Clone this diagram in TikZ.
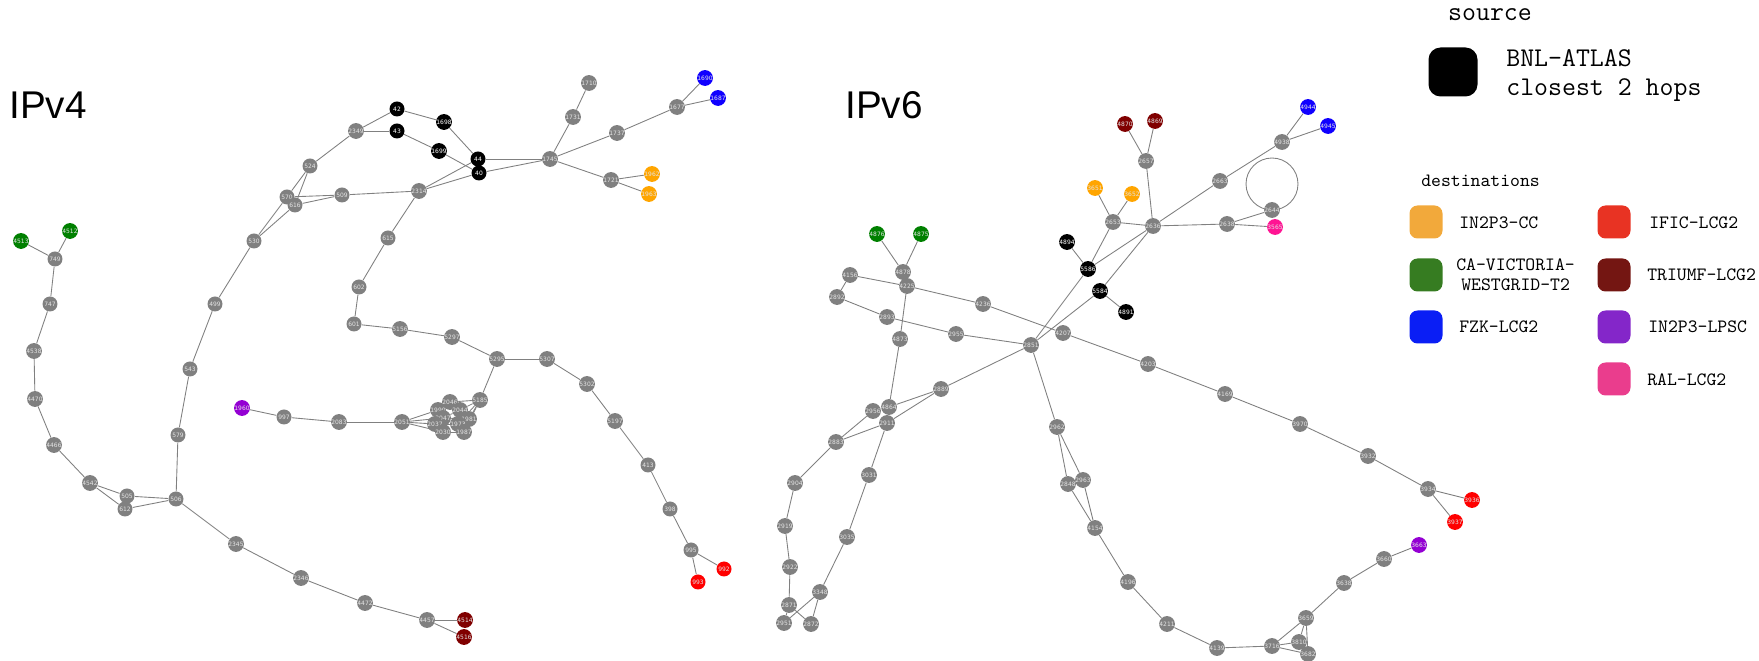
\documentclass[tikz,border=0pt]{standalone}
\usepackage{fontspec}
\setmainfont{Liberation Sans}
\newfontfamily\keyfont{Latin Modern Mono}
\newfontfamily\hopfont{DejaVu Sans}
\usetikzlibrary{backgrounds}

\definecolor{hopgray}{HTML}{808080}
\definecolor{hopgreen}{HTML}{008000}
\definecolor{hoporange}{HTML}{FFA500}
\definecolor{hopblue}{HTML}{1000FF}
\definecolor{hopred}{HTML}{FF0000}
\definecolor{hopmaroon}{HTML}{800000}
\definecolor{hopviolet}{HTML}{9400D3}
\definecolor{hoppink}{HTML}{FF1493}
\definecolor{keyorange}{HTML}{F2A93B}
\definecolor{keygreen}{HTML}{367C21}
\definecolor{keyblue}{HTML}{0A1EF5}
\definecolor{keyred}{HTML}{E83323}
\definecolor{keymaroon}{HTML}{741612}
\definecolor{keyviolet}{HTML}{8426C9}
\definecolor{keypink}{HTML}{EA3D8D}

\begin{document}
\begin{tikzpicture}[x=0.02cm, y=-0.02cm,
  hop/.style={circle, fill=hopgray, minimum size=0.3cm, inner sep=0pt,
    text=white!90!black, font=\hopfont\fontsize{3.4}{3.4}\selectfont},
  link/.style={draw=hopgray, line width=0.5pt},
  swatch/.style={rectangle, rounded corners=0.16cm, minimum size=0.66cm, inner sep=0pt},
  keytext/.style={anchor=base west, inner sep=0pt, font=\keyfont\fontsize{10.7}{12}\selectfont},
  bigkey/.style={inner sep=0pt, font=\keyfont\fontsize{15.4}{18}\selectfont},
  title/.style={anchor=west, inner sep=0pt, font=\fontsize{22}{26}\selectfont}]

\useasboundingbox (0,0) rectangle (1759,661);

%% IPv4
\node[title] (v4title) at (9,105) {IPv4};

\foreach \n/\x/\y in {749/55/259, 747/50/304, 4538/34/351, 4470/35/399, 4466/54/445,
  4542/90/483, 505/127/496, 612/125/509, 506/176/499, 579/178/435, 543/190/369,
  499/215/304, 530/254/241, 570/287/197, 616/295/205, 524/310/166, 509/342/195,
  2349/356/131, 2314/419/191, 1745/550/159, 1731/573/117, 1710/589/83, 1737/617/133,
  1677/677/107, 1721/611/180, 615/388/238, 602/359/287, 601/354/324, 5156/400/329,
  5297/452/337, 5295/497/359, 5307/547/359, 5302/587/384, 5197/615/421, 413/648/465,
  398/670/509, 995/691/550, 5185/480/400, 2046/450/402, 1990/438/410, 2044/460/410,
  2047/443/418, 1981/469/419, 2037/435/424, 1973/458/424, 2030/443/432, 1987/464/432,
  2051/402/422, 2083/339/422, 997/284/417, 2345/236/544, 2346/301/578, 4472/365/603,
  4457/427/620}
  \node[hop] (a\n) at (\x,\y) {\n};

% source and destinations
\foreach \n/\x/\y in {42/397/109, 43/397/131, 1698/444/122, 1699/439/151, 44/478/159, 40/479/173}
  \node[hop, fill=black, text=white] (a\n) at (\x,\y) {\n};
\node[hop, fill=hopgreen] (a4513) at (21,241) {4513};
\node[hop, fill=hopgreen] (a4512) at (70,231) {4512};
\node[hop, fill=hopblue] (a1690) at (705,78) {1690};
\node[hop, fill=hopblue] (a1687) at (718,98) {1687};
\node[hop, fill=hoporange] (a1962) at (652,174) {1962};
\node[hop, fill=hoporange] (a1963) at (649,194) {1963};
\node[hop, fill=hopred] (a992) at (724,569) {992};
\node[hop, fill=hopred] (a993) at (698,582) {993};
\node[hop, fill=hopviolet] (a1960) at (242,408) {1960};
\node[hop, fill=hopmaroon] (a4514) at (465,620) {4514};
\node[hop, fill=hopmaroon] (a4516) at (464,637) {4516};

\begin{pgfonlayer}{background}
\foreach \p/\q in {4513/749, 4512/749, 749/747, 747/4538, 4538/4470, 4470/4466,
  4466/4542, 4542/505, 4542/612, 505/506, 612/506, 506/579, 579/543, 543/499,
  499/530, 530/570, 530/616, 570/524, 616/524, 570/509, 616/509, 524/2349,
  2349/42, 2349/43, 42/1698, 43/1699, 1698/44, 1699/40, 509/2314, 2314/44,
  2314/40, 44/1745, 40/1745, 1745/1731, 1731/1710, 1745/1737, 1737/1677,
  1677/1690, 1677/1687, 1745/1721, 1721/1962, 1721/1963, 2314/615, 615/602,
  602/601, 601/5156, 5156/5297, 5297/5295, 5295/5307, 5307/5302, 5302/5197,
  5197/413, 413/398, 398/995, 995/992, 995/993, 5295/5185,
  2051/1990, 2051/2047, 2051/2037, 2051/2030, 1990/2046, 2047/2044, 2047/1981,
  2037/1973, 2030/1987, 2046/5185, 2044/5185, 1981/5185, 1973/5185, 1987/5185,
  2051/2083, 2083/997, 997/1960, 506/2345, 2345/2346, 2346/4472, 4472/4457,
  4457/4514, 4457/4516}
  \draw[link] (a\p) -- (a\q);
\end{pgfonlayer}

%% IPv6
\node[title] (v6title) at (845,105) {IPv6};

\foreach \n/\x/\y in {2657/1146/161, 4938/1282/142, 2663/1220/181, 2653/1113/222,
  2636/1153/226, 2638/1227/224, 2644/1272/210, 4878/903/272, 4225/907/286,
  4156/850/275, 2892/837/297, 2893/887/317, 4236/983/304, 4873/900/339,
  2955/956/334, 2851/1031/345, 4207/1063/333, 4203/1148/364, 4169/1225/394,
  3970/1300/424, 3932/1368/456, 3934/1428/489, 2889/941/389, 4864/889/407,
  2956/873/411, 2911/887/423, 2883/836/442, 3031/869/475, 2904/795/483,
  2919/785/526, 3035/847/537, 2922/790/567, 3348/820/592, 2871/789/605,
  2951/784/623, 2872/811/624, 2962/1057/427, 2848/1068/484, 2963/1083/480,
  4154/1095/528, 4196/1128/582, 4211/1167/624, 4139/1217/648, 3716/1272/646,
  3810/1299/642, 3682/1308/654, 3659/1306/618, 3638/1344/583, 3660/1384/559}
  \node[hop] (b\n) at (\x,\y) {\n};

% source and destinations
\foreach \n/\x/\y in {4894/1067/242, 5586/1088/269, 5584/1100/291, 4891/1126/312}
  \node[hop, fill=black, text=white] (b\n) at (\x,\y) {\n};
\node[hop, fill=hopmaroon] (b4870) at (1125,124) {4870};
\node[hop, fill=hopmaroon] (b4869) at (1155,121) {4869};
\node[hop, fill=hopblue] (b4944) at (1308,107) {4944};
\node[hop, fill=hopblue] (b4945) at (1328,126) {4945};
\node[hop, fill=hoporange] (b3651) at (1095,188) {3651};
\node[hop, fill=hoporange] (b3652) at (1132,194) {3652};
\node[hop, fill=hoppink] (b3565) at (1275,227) {3565};
\node[hop, fill=hopgreen] (b4876) at (877,234) {4876};
\node[hop, fill=hopgreen] (b4875) at (921,234) {4875};
\node[hop, fill=hopred] (b3936) at (1472,500) {3936};
\node[hop, fill=hopred] (b3937) at (1455,522) {3937};
\node[hop, fill=hopviolet] (b3663) at (1419,545) {3663};

\begin{pgfonlayer}{background}
\foreach \p/\q in {4870/2657, 4869/2657, 2657/2636, 3651/2653, 3652/2653,
  2653/2636, 2636/2663, 2663/4938, 4938/4944, 4938/4945, 2636/2638, 2638/2644,
  2638/3565, 4894/5586, 5586/2653, 5586/2636, 5584/2636, 5584/4891, 5586/2851,
  5584/2851, 4876/4878, 4875/4878, 4878/4225, 4156/4225, 4225/4236, 4236/4207,
  4207/4203, 4203/4169, 4169/3970, 3970/3932, 3932/3934, 3934/3936, 3934/3937,
  4156/2892, 2892/2893, 2893/2955, 2955/2851, 4225/4873, 4873/4864, 4864/2889,
  2889/2851, 2956/4864, 2883/2956, 2883/2911, 2911/2889, 2911/3031, 3031/3035,
  3035/3348, 3348/2951, 3348/2872, 2871/2951, 2871/2872, 2871/2922, 2922/2919,
  2919/2904, 2904/2883, 2851/2962, 2962/2848, 2962/2963, 2848/4154, 2963/4154,
  4154/4196, 4196/4211, 4211/4139, 4139/3716, 3716/3659, 3716/3810, 3716/3682,
  3659/3810, 3659/3682, 3659/3638, 3638/3660, 3660/3663}
  \draw[link] (b\p) -- (b\q);
\draw[link] (b2644.center) ++(0,-26) circle [radius=0.52cm];
\end{pgfonlayer}

%% legend
\node[bigkey, anchor=base] (srchead) at (1490,21) {source};
\node[swatch, fill=black, minimum size=0.98cm, rounded corners=0.24cm] (keysrc) at (1453,72) {};
\node[bigkey, anchor=base west] (srcname) at (1506,67) {BNL-ATLAS};
\node[bigkey, anchor=base west] (srchops) at (1506,96) {closest 2 hops};

\node[keytext] (dsthead) at (1421,187) {destinations};
\node[swatch, fill=keyorange] (keycc) at (1426,222) {};
\node[keytext] at (1459,229) {IN2P3-CC};
\node[swatch, fill=keygreen] (keyvic) at (1426,275) {};
\node[keytext] at (1456,271) {CA-VICTORIA-};
\node[keytext] at (1461,291) {WESTGRID-T2};
\node[swatch, fill=keyblue] (keyfzk) at (1426,327) {};
\node[keytext] at (1459,333) {FZK-LCG2};
\node[swatch, fill=keyred] (keyific) at (1614,222) {};
\node[keytext] at (1649,229) {IFIC-LCG2};
\node[swatch, fill=keymaroon] (keytri) at (1614,275) {};
\node[keytext] at (1647,281) {TRIUMF-LCG2};
\node[swatch, fill=keyviolet] (keylpsc) at (1614,327) {};
\node[keytext] at (1648,333) {IN2P3-LPSC};
\node[swatch, fill=keypink] (keyral) at (1614,379) {};
\node[keytext] at (1647,386) {RAL-LCG2};

\end{tikzpicture}
\end{document}
